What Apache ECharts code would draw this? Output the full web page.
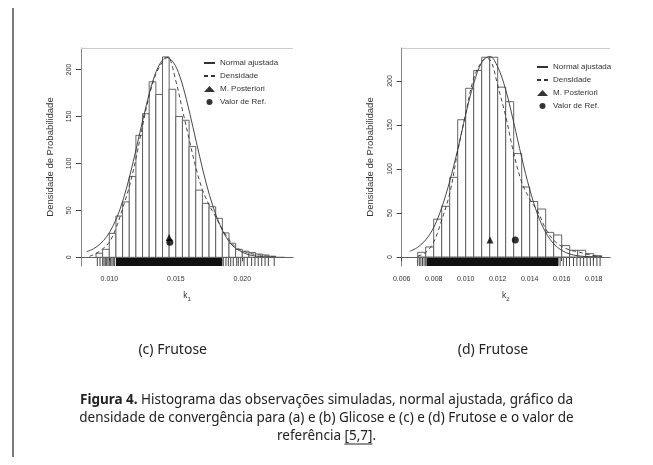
<!DOCTYPE html>
<html><head><meta charset="utf-8">
<script src="https://cdn.jsdelivr.net/npm/echarts@6/dist/echarts.min.js"></script>
<style>html,body{margin:0;padding:0;background:#fff}#c{width:653px;height:465px}</style>
</head><body><div id="c"></div>
<script>
// ---------------- data ----------------
const binWidth = 0.0005;
const legendNames = ['Normal ajustada', 'Densidade', 'M. Posteriori', 'Valor de Ref.'];
// (c) k1
const k1BinLeft = [0.0090,0.0095,0.0100,0.0105,0.0110,0.0115,0.0120,0.0125,0.0130,0.0135,0.0140,0.0145,0.0150,0.0155,0.0160,0.0165,0.0170,0.0175,0.0180,0.0185,0.0190,0.0195,0.0200,0.0205,0.0210,0.0215,0.0220];
const k1Hist    = [4.3,8.5,25.5,44,59,86,130,153,187,173.5,213.5,179,150,146,118,71.6,57.4,53.9,41.5,26,15,8.5,6.5,5,3.5,2.5,1.2];
const k1NormX = [0.0083,0.0088,0.0093,0.0098,0.0103,0.0108,0.0113,0.0118,0.0123,0.0128,0.0133,0.0138,0.0143,0.0148,0.0153,0.0158,0.0163,0.0168,0.0173,0.0178,0.0183,0.0188,0.0193,0.0198,0.0203,0.0208,0.0213,0.0218,0.0223,0.0232];
const k1NormY = [6,9,14,22,34,51,74,102,133,163,189,206,213,208,193,168,138,107,78,54,35,21,12,7,3.6,1.8,0.8,0.4,0.15,0];
const k1DensX = [0.0085,0.0090,0.0095,0.0100,0.0105,0.0110,0.0115,0.0120,0.0125,0.0130,0.0135,0.0140,0.0144,0.0150,0.0155,0.0160,0.0165,0.0170,0.0175,0.0180,0.0185,0.0190,0.0195,0.0200,0.0205,0.0210,0.0215,0.0220,0.0225];
const k1DensY = [1,4,9,16,31,52,75,105,140,172,195,208,213,188,157,126,96,72,56,43,30,19,11,7,4.5,3,2,1,0.3];
const k1Post = [0.0145, 21];
const k1Ref  = [0.01455, 16];
const k1RugSparse = [0.0091,0.0093,0.0095,0.0096,0.0097,0.0098,0.0099,0.0100,0.0101,0.0102,0.0103,0.0104,0.01857,0.01877,0.01895,0.01913,0.01932,0.01958,0.0197,0.01988,0.02013,0.02038,0.0207,0.02095,0.0212,0.02146,0.02171,0.02196,0.0224];
const k1RugDense = [0.0105, 0.0185];
const k1XTicks = [0.010, 0.015, 0.020];
const k1YTicks = [0, 50, 100, 150, 200];
// (d) k2
const k2BinLeft = [0.0070,0.0075,0.0080,0.0085,0.0090,0.0095,0.0100,0.0105,0.0110,0.0115,0.0120,0.0125,0.0130,0.0135,0.0140,0.0145,0.0150,0.0155,0.0160,0.0165,0.0170,0.0175,0.0180];
const k2Hist    = [5.3,11.4,43,57.6,90.5,156,191.7,212,227,227,193,176.5,117.5,79.5,63,54.5,28,25,13,7.6,7.6,3.8,1.5];
const k2NormX = [0.0065,0.0070,0.0075,0.0080,0.0085,0.0090,0.0095,0.0100,0.0105,0.0110,0.0115,0.0120,0.0125,0.0130,0.0135,0.0140,0.0145,0.0150,0.0155,0.0160,0.0165,0.0170,0.0175,0.0180,0.0185];
const k2NormY = [6.5,11,19.5,33.5,56,86,122,162,197,221,228,216,190,153,113,77,48,28,15,7.5,3.4,1.4,0.6,0.2,0.1];
const k2DensX = [0.0070,0.0075,0.0080,0.0085,0.0090,0.0095,0.0100,0.0105,0.0110,0.0113,0.0116,0.0120,0.0125,0.0130,0.0135,0.0140,0.0145,0.0150,0.0155,0.0160,0.0165,0.0170,0.0175,0.0180,0.0185];
const k2DensY = [1,5,17,42,72,120,163,203,222,226,222,195,160,118,85,66,52,32,19,12,8,6,3.5,1.5,0.5];
const k2Post = [0.01152, 19.3];
const k2Ref  = [0.0131, 19.3];
const k2RugSparse = [0.0070,0.0071,0.0072,0.0073,0.0074,0.0075,0.0159,0.0161,0.0163,0.01649,0.01674,0.01695,0.01716,0.01737,0.01758,0.01779,0.01798,0.0182,0.0184];
const k2RugDense = [0.00755, 0.0158];
const k2XTicks = [0.006, 0.008, 0.010, 0.012, 0.014, 0.016, 0.018];
const k2YTicks = [0, 50, 100, 150, 200];

// ---------------- helpers ----------------
const RF = '"Liberation Sans", Arial, sans-serif';
const CF = '"Noto Sans", sans-serif';
const INK = '#333';
const zip = (xs, ys) => xs.map((x, i) => [x, ys[i]]);

function histSeries(g, lefts, h) {
  return {
    type: 'custom', xAxisIndex: g, yAxisIndex: g, silent: true, z: 1,
    data: lefts.map((l, i) => [l, l + binWidth, h[i]]),
    encode: { x: [0, 1], y: 2 },
    renderItem(p, api) {
      const a = api.coord([api.value(0), api.value(2)]);
      const b = api.coord([api.value(1), 0]);
      return { type: 'rect', shape: { x: a[0], y: a[1], width: b[0] - a[0], height: b[1] - a[1] },
        style: { fill: '#fff', stroke: '#555', lineWidth: 0.9 } };
    }
  };
}
function rugSeries(g, sparse, dense, yMin) {
  const items = sparse.map(v => [v, v, 0]).concat([[dense[0], dense[1], 1]]);
  return {
    type: 'custom', xAxisIndex: g, yAxisIndex: g, silent: true, z: 3,
    data: items, encode: { x: [0, 1] },
    renderItem(p, api) {
      const a = api.coord([api.value(0), yMin]);
      const b = api.coord([api.value(1), yMin]);
      if (api.value(2) === 1) {
        return { type: 'rect', shape: { x: a[0], y: a[1] - 8, width: b[0] - a[0], height: 8 }, style: { fill: '#111' } };
      }
      return { type: 'line', shape: { x1: a[0], y1: a[1], x2: a[0], y2: a[1] - 8 }, style: { stroke: '#333', lineWidth: 0.9 } };
    }
  };
}
function lineSeries(g, name, pts, dashed) {
  return {
    type: 'line', name, xAxisIndex: g, yAxisIndex: g, data: pts, showSymbol: false, symbol: 'none',
    smooth: 0.35, silent: true, z: 4, color: INK,
    lineStyle: { color: INK, width: 0.9, type: dashed ? [4, 3] : 'solid' }
  };
}
function pointSeries(g, name, pt, sym) {
  return { type: 'scatter', name, xAxisIndex: g, yAxisIndex: g, data: [pt], symbol: sym, symbolSize: 7,
    itemStyle: { color: '#000' }, silent: true, z: 5 };
}
function refLines(g, top) {
  return { type: 'line', xAxisIndex: g, yAxisIndex: g, data: [], silent: true,
    markLine: { silent: true, symbol: 'none', label: { show: false }, animation: false,
      data: [
        { yAxis: 0, lineStyle: { color: '#666', width: 0.8, type: 'solid' } },
        { yAxis: top, lineStyle: { color: '#ccc', width: 1, type: 'solid' } }
      ] } };
}
function xAxisDef(g, min, max, ticks, sub) {
  return {
    type: 'value', gridIndex: g, min, max,
    axisLine: { show: true, lineStyle: { color: '#444', width: 1 } },
    axisTick: { show: true, length: 4, customValues: ticks, lineStyle: { color: '#444' } },
    axisLabel: { customValues: ticks, formatter: v => v.toFixed(3), fontSize: 7, fontFamily: RF, color: INK, margin: 10 },
    splitLine: { show: false },
    name: '{k|k}{s|' + sub + '}', nameLocation: 'middle', nameGap: 24,
    nameTextStyle: { rich: { k: { fontSize: 8.5, fontFamily: RF, color: INK }, s: { fontSize: 6, fontFamily: RF, color: INK, padding: [6, 0, 0, 0] } } }
  };
}
function yAxisDef(g, min, max, ticks) {
  return {
    type: 'value', gridIndex: g, min, max,
    axisLine: { show: true, lineStyle: { color: '#888', width: 1 } },
    axisTick: { show: true, length: 5, customValues: ticks, lineStyle: { color: '#444' } },
    axisLabel: { customValues: ticks, rotate: 90, fontSize: 7, fontFamily: RF, color: INK, margin: 8 },
    splitLine: { show: false },
    name: 'Densidade de Probabilidade', nameLocation: 'middle', nameRotate: 90, nameGap: 26,
    nameTextStyle: { fontSize: 9.5, fontFamily: RF, color: INK }
  };
}
function legendDef(left, top) {
  return {
    left, top, padding: 0, orient: 'vertical', itemWidth: 11, itemHeight: 6, itemGap: 3,
    selectedMode: false,
    data: [
      { name: legendNames[0], itemStyle: { opacity: 0 } },
      { name: legendNames[1], itemStyle: { opacity: 0 } },
      { name: legendNames[2] },
      { name: legendNames[3] }
    ],
    textStyle: { fontSize: 8, fontFamily: RF, color: INK, lineHeight: 10 },
    lineStyle: { type: 'inherit' }
  };
}

// ---------------- chart ----------------
const chart = echarts.init(document.getElementById('c'), null, { renderer: 'canvas' });

const CAP = 13.5;
const ctx = document.createElement('canvas').getContext('2d');
ctx.font = CAP + 'px "Noto Sans"';
const capX = 326.5, capY = [400, 418, 436];
const wFull = ctx.measureText('referência [5,7].').width;
const wPre = ctx.measureText('referência ').width;
const wRef = ctx.measureText('[5,7]').width;
const ulX = capX - wFull / 2 + wPre;

chart.setOption({
  animation: false,
  backgroundColor: '#fff',
  grid: [
    { left: 81, top: 48, width: 212, height: 218, show: false },
    { left: 401.7, top: 48, width: 208.3, height: 218, show: false }
  ],
  xAxis: [xAxisDef(0, 0.007872, 0.023812, k1XTicks, '1'), xAxisDef(1, 0.006, 0.019019, k2XTicks, '2')],
  yAxis: [yAxisDef(0, -9.27, 223.0, k1YTicks), yAxisDef(1, -10.23, 237.5, k2YTicks)],
  legend: [legendDef(203, 58), legendDef(536, 62)],
  series: [
    histSeries(0, k1BinLeft, k1Hist), refLines(0, 223.0), rugSeries(0, k1RugSparse, k1RugDense, -9.27),
    lineSeries(0, 'Normal ajustada', zip(k1NormX, k1NormY), false),
    lineSeries(0, 'Densidade', zip(k1DensX, k1DensY), true),
    pointSeries(0, 'M. Posteriori', k1Post, 'triangle'),
    pointSeries(0, 'Valor de Ref.', k1Ref, 'circle'),
    histSeries(1, k2BinLeft, k2Hist), refLines(1, 237.5), rugSeries(1, k2RugSparse, k2RugDense, -10.23),
    lineSeries(1, 'Normal ajustada', zip(k2NormX, k2NormY), false),
    lineSeries(1, 'Densidade', zip(k2DensX, k2DensY), true),
    pointSeries(1, 'M. Posteriori', k2Post, 'triangle'),
    pointSeries(1, 'Valor de Ref.', k2Ref, 'circle')
  ],
  graphic: [
    { type: 'line', shape: { x1: 13, y1: 8, x2: 13, y2: 457 }, style: { stroke: '#444', lineWidth: 1.4 } },
    { type: 'text', x: 172.7, y: 350, style: { text: '(c) Frutose', font: '14px ' + CF, fill: '#222', align: 'center', verticalAlign: 'middle' } },
    { type: 'text', x: 493, y: 350, style: { text: '(d) Frutose', font: '14px ' + CF, fill: '#222', align: 'center', verticalAlign: 'middle' } },
    { type: 'text', x: capX, y: capY[0], style: { text: '{b|Figura 4.} Histograma das observações simuladas, normal ajustada, gráfico da', font: CAP + 'px ' + CF, fill: '#222', align: 'center', verticalAlign: 'middle',
      rich: { b: { fontWeight: 'bold', fontSize: CAP, fontFamily: CF, fill: '#222' } } } },
    { type: 'text', x: capX, y: capY[1], style: { text: 'densidade de convergência para (a) e (b) Glicose e (c) e (d) Frutose e o valor de', font: CAP + 'px ' + CF, fill: '#222', align: 'center', verticalAlign: 'middle' } },
    { type: 'text', x: capX, y: capY[2], style: { text: 'referência [5,7].', font: CAP + 'px ' + CF, fill: '#222', align: 'center', verticalAlign: 'middle' } },
    { type: 'line', shape: { x1: ulX, y1: capY[2] + 8, x2: ulX + wRef, y2: capY[2] + 8 }, style: { stroke: '#222', lineWidth: 1 } }
  ]
});
</script></body></html>
